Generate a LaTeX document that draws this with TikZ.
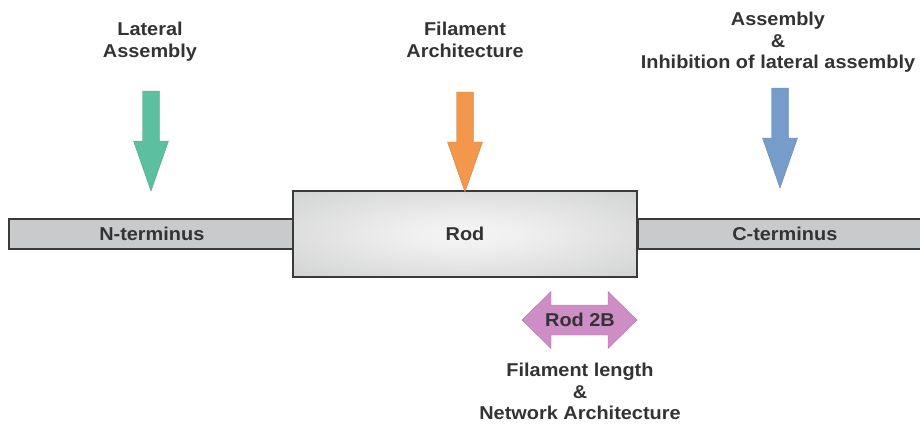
\documentclass[tikz,border=0pt]{standalone}
\usepackage{fontspec}
\setmainfont{Liberation Sans}[FakeStretch=1.07]
\usetikzlibrary{positioning}
\definecolor{txtgray}{HTML}{333333}
\definecolor{edgegray}{HTML}{3A3A3A}
\definecolor{bargray}{HTML}{C9CACB}
\definecolor{rodgray}{HTML}{C2C3C4}
\definecolor{armgreen}{HTML}{5CC0A0}
\definecolor{armorange}{HTML}{F2974C}
\definecolor{armblue}{HTML}{769CC9}
\definecolor{armpink}{HTML}{CE8DC4}
\pgfdeclareradialshading{rodshade}{\pgfpoint{0bp}{0bp}}{%
  color(0bp)=(white!96!black); color(8bp)=(white!94!black);
  color(50bp)=(rodgray); color(72bp)=(rodgray!92!black)}

\begin{document}
\begin{tikzpicture}[
    x=1pt, y=-1pt,
    lbl/.style={font=\fontsize{18.6}{21.6}\selectfont\bfseries, text=txtgray,
                align=center, inner sep=0pt},
    bar/.style={draw=edgegray, line width=1.6pt, fill=bargray, minimum height=30pt,
                inner sep=0pt, font=\fontsize{18.6}{21.6}\selectfont\bfseries, text=txtgray},
    rodbox/.style={bar, shading=rodshade, shade,
                   minimum width=344pt, minimum height=86pt},
    blockarrow/.style={fill=#1, draw=#1!85!black, line width=0.4pt},
]
\useasboundingbox (0,0) rectangle (920,426);

% the chain: two tails and the rod
\node[bar, anchor=west, minimum width=286pt] (nterm) at (8,234) {N-terminus};
\node[bar, anchor=west, minimum width=294pt] (cterm) at (637,234) {C-terminus};
\node[rodbox] (rod) at (465,234) {Rod};

% top labels
\node[lbl, anchor=north] (lateral) at (150,22) {Lateral\\Assembly};
\node[lbl, anchor=north] (filarch) at (465,22) {Filament\\Architecture};
\node[lbl, anchor=north] (inhib) at (778,12) {Assembly\\\&\\Inhibition of lateral assembly};

% block arrows pointing down
\foreach \ax/\ay/\acol in {151/91/armgreen, 465/92/armorange, 780/88/armblue}
  \filldraw[blockarrow=\acol] (\ax,\ay) ++(-8.5,0) -- ++(17,0) -- ++(0,50) -- ++(9,0)
    -- ++(-17.5,50) -- ++(-17.5,-50) -- ++(9,0) -- cycle;

% Rod 2B double arrow
\filldraw[blockarrow=armpink] (522,320) -- (551,291.5) -- (551,305) -- (608,305)
  -- (608,291.5) -- (637,320) -- (608,348.5) -- (608,335) -- (551,335)
  -- (551,348.5) -- cycle;
\node[lbl] (rodtwob) at (580,320) {Rod 2B};

% bottom label
\node[lbl, anchor=north] (fillen) at (580,363) {Filament length\\\&\\Network Architecture};
\end{tikzpicture}
\end{document}
